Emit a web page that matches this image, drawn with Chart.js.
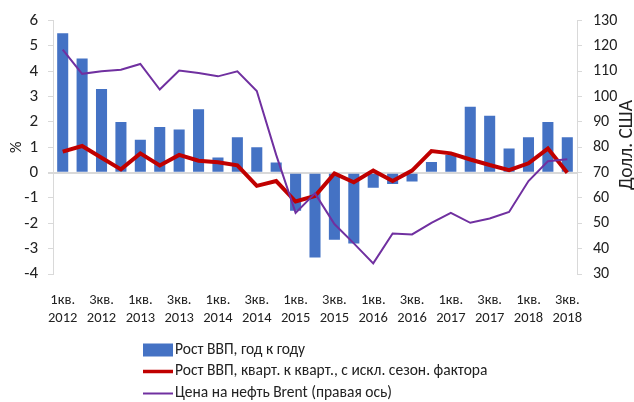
<!DOCTYPE html>
<html>
<head>
<meta charset="utf-8">
<script src="https://cdn.jsdelivr.net/npm/chart.js@4.4.1/dist/chart.umd.min.js"></script>
<style>
  html, body { margin: 0; padding: 0; background: #fff; }
  #wrap { width: 634px; height: 402px; }
</style>
</head>
<body>
<div id="wrap"><canvas id="c" width="634" height="402"></canvas></div>
<script>
const quarters = ['1кв.', '2кв.', '3кв.', '4кв.'];
const years = ['2012', '2013', '2014', '2015', '2016', '2017', '2018'];
const categories = [];
years.forEach(y => quarters.forEach(q => categories.push([q, y])));
categories.length = 27; // 1кв. 2012 – 3кв. 2018

const gdpYoY = [5.5, 4.5, 3.3, 2.0, 1.3, 1.8, 1.7, 2.5, 0.6, 1.4, 1.0, 0.4,
  -1.5, -3.35, -2.65, -2.8, -0.6, -0.45, -0.35, 0.42, 0.7, 2.6, 2.25, 0.95, 1.4, 2.0, 1.4];
const gdpQoQ = [0.83, 1.05, 0.59, 0.13, 0.76, 0.28, 0.70, 0.47, 0.41, 0.29, -0.52, -0.33,
  -1.14, -0.92, -0.03, -0.38, 0.08, -0.33, 0.08, 0.85, 0.76, 0.52, 0.30, 0.10, 0.37, 0.95, 0.0];
const brent = [118.5, 109, 110, 110.6, 112.9, 102.8, 110.3, 109.3, 108, 110, 102.2, 77,
  54.1, 61.8, 49.7, 42.1, 34.2, 46, 45.6, 50.2, 54.1, 50.2, 51.9, 54.5, 66.7, 74.5, 75.3];

const seriesNames = ['Рост ВВП, год к году', 'Рост ВВП, кварт. к кварт., с искл. сезон. фактора', 'Цена на нефть Brent (правая ось)'];
const leftTitle = '%';
const rightTitle = 'Долл. США';

const FONT = "Carlito, 'Liberation Sans', sans-serif";
const TEXT = '#222222';
const AXIS = '#D9D9D9';
const COLORS = ['#4472C4', '#C00000', '#7030A0'];

const extras = {
  id: 'extras',
  afterDraw(chart) {
    const ctx = chart.ctx;
    ctx.save();
    // right axis title, reading bottom-to-top
    ctx.fillStyle = TEXT;
    ctx.font = '18px ' + FONT;
    const w = ctx.measureText(rightTitle).width;
    const size = Math.min(20, 18 * 90 / w);
    ctx.font = size.toFixed(1) + 'px ' + FONT;
    ctx.textAlign = 'center';
    ctx.textBaseline = 'middle';
    const y1 = chart.scales.y1;
    ctx.translate(627, 145);
    ctx.rotate(-Math.PI / 2);
    ctx.fillText(rightTitle, 0, 0);
    ctx.restore();

    // legend
    ctx.save();
    ctx.font = '15.5px ' + FONT;
    ctx.textBaseline = 'middle';
    ctx.textAlign = 'left';
    const x0 = 143, x1 = 173, rows = [350, 371.5, 393.5];
    ctx.fillStyle = COLORS[0];
    ctx.fillRect(x0, rows[0] - 6.5, x1 - x0, 13);
    ctx.strokeStyle = COLORS[1]; ctx.lineWidth = 3.5;
    ctx.beginPath(); ctx.moveTo(x0, rows[1]); ctx.lineTo(x1, rows[1]); ctx.stroke();
    ctx.strokeStyle = COLORS[2]; ctx.lineWidth = 2;
    ctx.beginPath(); ctx.moveTo(x0, rows[2]); ctx.lineTo(x1, rows[2]); ctx.stroke();
    ctx.fillStyle = TEXT;
    seriesNames.forEach((n, i) => ctx.fillText(n, x1 + 2, rows[i]));
    ctx.restore();
  }
};

new Chart(document.getElementById('c'), {
  data: {
    labels: categories,
    datasets: [
      { type: 'bar', label: seriesNames[0], data: gdpYoY, yAxisID: 'y', backgroundColor: COLORS[0],
        categoryPercentage: 1.0, barPercentage: 0.57, order: 3 },
      { type: 'line', label: seriesNames[1], data: gdpQoQ, yAxisID: 'y', borderColor: COLORS[1],
        borderWidth: 4, pointRadius: 0, tension: 0, fill: false, order: 2 },
      { type: 'line', label: seriesNames[2], data: brent, yAxisID: 'y1', borderColor: COLORS[2],
        borderWidth: 2, pointRadius: 0, tension: 0, fill: false, order: 1 }
    ]
  },
  options: {
    responsive: false,
    animation: false,
    devicePixelRatio: 1,
    layout: { padding: { top: 20, bottom: 72, left: 0, right: 0 } },
    plugins: { legend: { display: false }, tooltip: { enabled: false } },
    scales: {
      x: {
        offset: true,
        grid: { display: false, drawTicks: false },
        border: { display: false },
        ticks: {
          autoSkip: false, maxRotation: 0, minRotation: 0, padding: 17,
          color: TEXT, font: { family: FONT, size: 14.5, lineHeight: 1.28 },
          callback: function(v, i) { return i % 2 === 0 ? this.getLabelForValue(v) : ''; }
        },
        afterFit(s) { s.height = 56; }
      },
      y: {
        position: 'left', min: -4, max: 6,
        ticks: { stepSize: 1, padding: 10, color: TEXT, font: { family: FONT, size: 17 } },
        grid: {
          color: c => (c.tick && c.tick.value === 0) ? AXIS : 'rgba(0,0,0,0)',
          lineWidth: c => (c.tick && c.tick.value === 0) ? 2 : 1,
          tickColor: AXIS, tickLength: 5
        },
        border: { display: true, color: AXIS, width: 1 },
        title: { display: true, text: leftTitle, color: TEXT, font: { family: FONT, size: 16 }, padding: { top: 7 } },
        afterFit(s) { s.width = 53; }
      },
      y1: {
        position: 'right', min: 30, max: 130,
        ticks: { stepSize: 10, padding: 11, color: TEXT, font: { family: FONT, size: 16 } },
        grid: { drawOnChartArea: false, color: AXIS, tickColor: AXIS, tickLength: 5 },
        border: { display: true, color: AXIS, width: 1 },
        afterFit(s) { s.width = 57; }
      }
    }
  },
  plugins: [extras]
});
</script>
</body>
</html>
